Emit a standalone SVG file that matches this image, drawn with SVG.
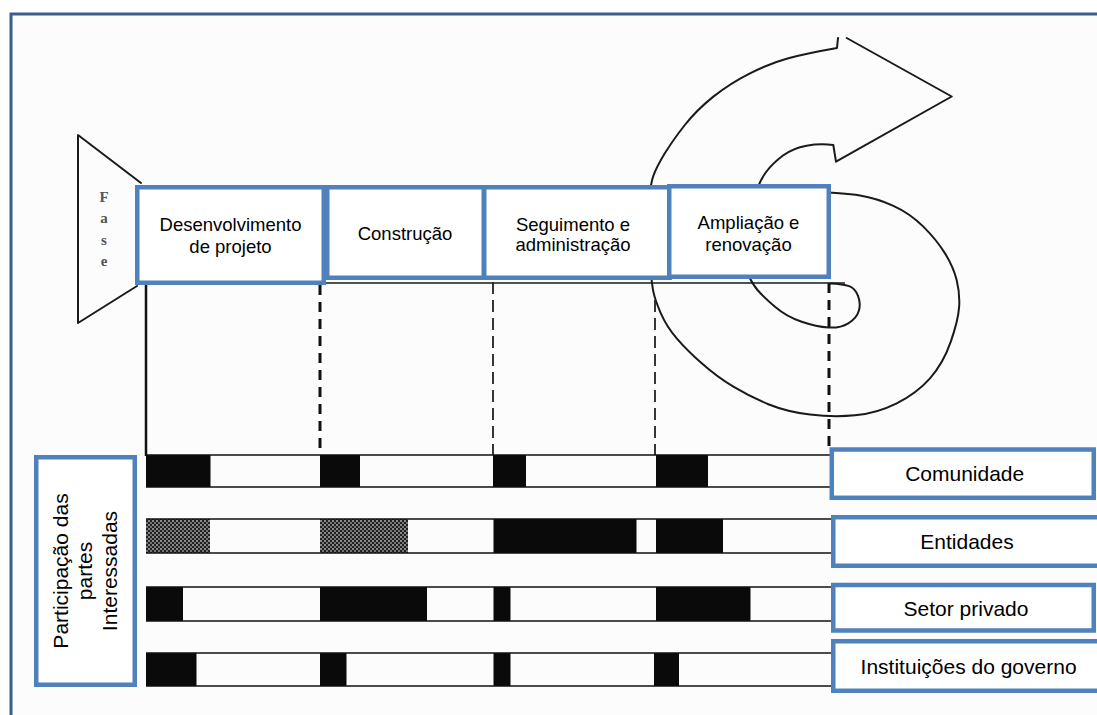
<svg xmlns="http://www.w3.org/2000/svg" width="1097" height="715" viewBox="0 0 1097 715">
<defs>
<style>
.box{fill:#fff;stroke:#4f81bd;stroke-width:4.5}
.t{font-family:"Liberation Sans",Arial,sans-serif;fill:#000;text-anchor:middle}
.ph{font-size:18.5px}
.sk{font-size:21px}
.ink{fill:none;stroke:#1a1a1a;stroke-width:2;stroke-linejoin:round;stroke-linecap:round}
.bar{stroke:#111;stroke-width:1.6}
.blk{fill:#0a0a0a}
.dk{fill:none;stroke:#111;stroke-width:3;stroke-dasharray:10 7}
.dn{fill:none;stroke:#222;stroke-width:1.8;stroke-dasharray:12 6}
.fase{font-family:"Liberation Serif","Times New Roman",serif;font-weight:bold;font-size:15px;fill:#555;text-anchor:middle}
</style>
<pattern id="stip" width="4" height="4" patternUnits="userSpaceOnUse">
<rect width="4" height="4" fill="#222"/>
<circle cx="1" cy="1" r="0.9" fill="#bbb"/>
<circle cx="3" cy="3" r="0.9" fill="#999"/>
</pattern>
</defs>

<rect id="frame" x="11" y="14" width="1100" height="720" fill="#fcfcfd" stroke="#3a5f8f" stroke-width="3"/>

<g id="fase-arrow">
<polyline class="ink" points="141,183 78,135 78,323 137,286"/>
<text class="fase" x="104" y="202">F</text>
<text class="fase" x="104" y="223">a</text>
<text class="fase" x="104" y="244.5">s</text>
<text class="fase" x="104" y="266">e</text>
</g>

<g id="spiral">
<path class="ink" d="M838,38 L837,48 Q806.7,53.3 788.35,58.3 Q770,63.3 750,73.3 Q730,83.3 713.35,96.65 Q696.7,110 684.85,125 Q673,140 664.85,153.35 Q656.7,166.7 653.35,175.85 Q650,185 648.5,210 Q647,235 649.35,259.15 Q651.7,283.3 653.35,291.65 Q655,300 660.85,313.35 Q666.7,326.7 676.7,338.35 Q686.7,350 701.7,363.35 Q716.7,376.7 733.35,386.7 Q750,396.7 768.35,404.2 Q786.7,411.7 810,414.5 Q833.3,417.3 855,415.3 Q876.7,413.3 896.7,403.3 Q916.7,393.3 930,378.3 Q943.3,363.3 950.8,341.65 Q958.3,320 959.15,306.65 Q960,293.3 956.65,280 Q953.3,266.7 945,253.35 Q936.7,240 923.35,226.65 Q910,213.3 893.35,205.8 Q876.7,198.3 860,195.5 Q843.3,192.7 810,192"/>
<path class="ink" d="M846.7,38 L951.7,96.5 L836,161.7 L833.3,145 Q820,143.3 806.5,145.65 Q793,148 783,155.5 Q773,163 766.5,171.5 Q760,180 755,195"/>
<path class="ink" d="M745,268 Q751.7,283.3 757.5,290 Q763.3,296.7 775,306.7 Q786.7,316.7 801.7,321.7 Q816.7,326.7 828.35,327.5 Q840,328.3 848.35,323.3 Q856.7,318.3 858.85,310.8 Q861,303.3 858,295.8 Q855,288.3 849.15,286.15 Q843.3,284 830,283.5"/>
</g>

<g id="connectors">
<line x1="146" y1="283" x2="845" y2="283" stroke="#1a1a1a" stroke-width="1.6"/>
<line x1="146" y1="283" x2="146" y2="456" stroke="#111" stroke-width="2.5"/>
<line class="dk" x1="320" y1="285" x2="320" y2="455"/>
<line class="dn" x1="493" y1="282" x2="493" y2="455"/>
<line class="dn" x1="655" y1="300" x2="655" y2="455"/>
<line class="dk" x1="829" y1="283" x2="829" y2="448"/>
</g>

<g id="bars">
<g id="bar-comunidade">
<rect class="blk" x="146" y="455" width="64.5" height="32"/>
<rect class="blk" x="320" y="455" width="40" height="32"/>
<rect class="blk" x="493" y="455" width="33" height="32"/>
<rect class="blk" x="656" y="455" width="52" height="32"/>
<line class="bar" x1="146" y1="455" x2="831" y2="455"/>
<line class="bar" x1="146" y1="487" x2="831" y2="487"/>
</g>
<g id="bar-entidades">
<rect fill="url(#stip)" x="146" y="519" width="64" height="34"/>
<rect fill="url(#stip)" x="320" y="519" width="88" height="34"/>
<rect class="blk" x="493.5" y="519" width="143" height="34"/>
<rect class="blk" x="656" y="519" width="67" height="34"/>
<line class="bar" x1="146" y1="519" x2="833" y2="519"/>
<line class="bar" x1="146" y1="553" x2="833" y2="553"/>
</g>
<g id="bar-setor">
<rect class="blk" x="146" y="587" width="37" height="34"/>
<rect class="blk" x="320" y="587" width="107" height="34"/>
<rect class="blk" x="493.5" y="587" width="17" height="34"/>
<rect class="blk" x="656" y="587" width="94.5" height="34"/>
<line class="bar" x1="146" y1="587" x2="833" y2="587"/>
<line class="bar" x1="146" y1="621" x2="833" y2="621"/>
</g>
<g id="bar-governo">
<rect class="blk" x="146" y="653" width="50.5" height="33"/>
<rect class="blk" x="320" y="653" width="26.5" height="33"/>
<rect class="blk" x="493.5" y="653" width="17" height="33"/>
<rect class="blk" x="654" y="653" width="25" height="33"/>
<line class="bar" x1="146" y1="653" x2="833" y2="653"/>
<line class="bar" x1="146" y1="686" x2="833" y2="686"/>
</g>
</g>

<g id="phase-desenvolvimento">
<rect class="box" x="137.25" y="187.25" width="186.5" height="95.5"/>
<text class="t ph" x="230.5" y="231">Desenvolvimento</text>
<text class="t ph" x="230.5" y="253">de projeto</text>
</g>
<g id="phase-construcao">
<rect class="box" x="327.25" y="187.25" width="156.5" height="90.5"/>
<text class="t ph" x="405" y="240">Construção</text>
</g>
<g id="phase-seguimento">
<rect class="box" x="484.25" y="187.25" width="185.5" height="90.5"/>
<text class="t ph" x="573" y="230.5">Seguimento e</text>
<text class="t ph" x="573" y="251">administração</text>
</g>
<g id="phase-ampliacao">
<rect class="box" x="669.25" y="186.25" width="159.5" height="90.5"/>
<text class="t ph" x="748.5" y="228.7">Ampliação e</text>
<text class="t ph" x="748.5" y="250.7">renovação</text>
</g>

<g id="participacao">
<rect class="box" x="36.25" y="457.25" width="98.5" height="227.5"/>
<text class="t sk" transform="translate(67.6,571) rotate(-90)">Participação das</text>
<text class="t sk" transform="translate(92,571) rotate(-90)">partes</text>
<text class="t sk" transform="translate(116.7,571) rotate(-90)">Interessadas</text>
</g>

<g id="comunidade">
<rect class="box" x="831.75" y="449.5" width="262" height="48.3"/>
<text class="t sk" x="964.7" y="481">Comunidade</text>
</g>
<g id="entidades">
<rect class="box" x="833.25" y="517.25" width="280" height="48.5"/>
<text class="t sk" x="967" y="549">Entidades</text>
</g>
<g id="setor-privado">
<rect class="box" x="833.25" y="585" width="260.5" height="45.5"/>
<text class="t sk" x="966" y="615.5">Setor privado</text>
</g>
<g id="instituicoes">
<rect class="box" x="833.25" y="641.25" width="280" height="49.5"/>
<text class="t sk" x="968.6" y="673.5">Instituições do governo</text>
</g>
</svg>
